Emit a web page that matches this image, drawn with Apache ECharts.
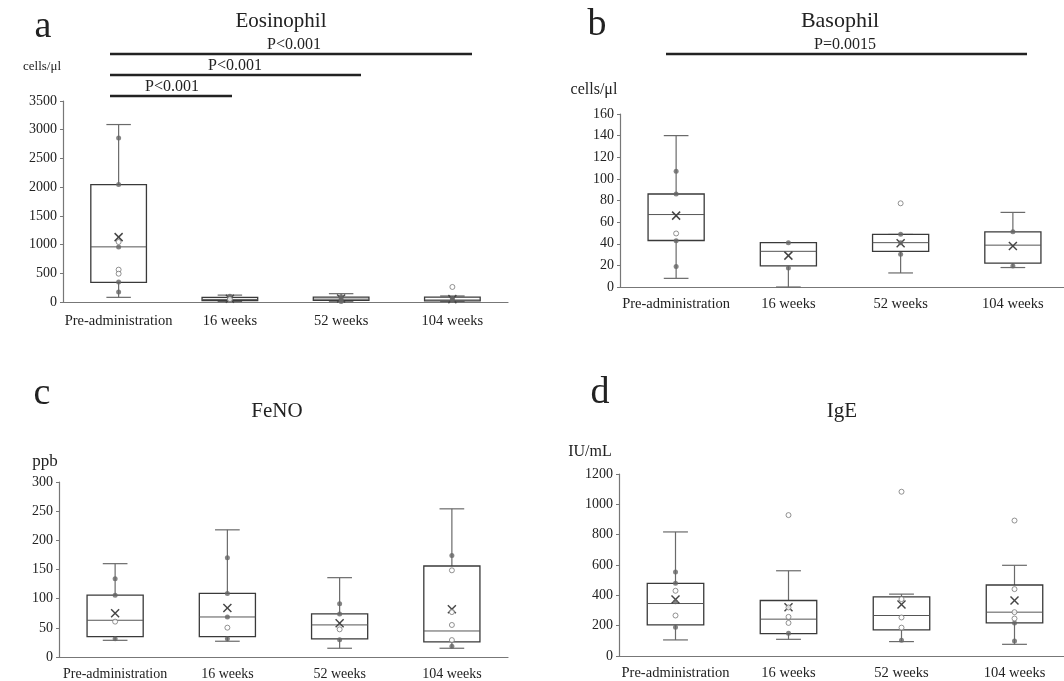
<!DOCTYPE html>
<html>
<head>
<meta charset="utf-8">
<script src="https://cdn.jsdelivr.net/npm/echarts@6/dist/echarts.min.js"></script>
<style>
  html, body { margin: 0; padding: 0; background: #fff; }
  #main { width: 1064px; height: 681px; }
</style>
</head>
<body>
<div id="main"></div>
<script>
var categories = ['Pre-administration', '16 weeks', '52 weeks', '104 weeks'];

// box rows: [min, Q1, median, Q3, max, mean]
var eosBox = [[81, 342, 960, 2045, 3090, 1130], [10, 25, 45, 80, 120, 55], [5, 30, 50, 85, 145, 60], [5, 20, 35, 85, 105, 50]];
var eosFilled = [[2856, 2045, 958, 348, 174], [100, 60, 40], [90, 50, 10], [30, 60]];
var eosHollow = [[1045, 563, 493], [50], [], [262]];

var basBox = [[8, 43, 67, 86, 140, 66], [0, 19.5, 33, 41, 41, 29], [13, 33, 41, 48.6, 48.6, 40.5], [18, 22, 38.7, 51, 69, 38]];
var basFilled = [[107, 86, 42.7, 19], [41, 17.6], [48.9, 41, 30.3], [51, 19.5]];
var basHollow = [[49.5], [], [77.4], []];

var fenoBox = [[28.6, 35, 63, 106, 160, 75], [27, 35, 68.6, 109, 218, 84], [15, 31, 55, 74, 136, 58], [15, 26, 44.6, 156, 254, 82]];
var fenoFilled = [[134, 106, 31.4], [170, 109, 68.6, 31.4], [91.4, 73.7, 29.7], [174, 18.3]];
var fenoHollow = [[60.6], [50.3], [47.4], [148.6, 77, 54.9, 29]];

var igeBox = [[106, 205, 346, 479, 818, 373], [110, 148, 243, 366, 562, 322], [95, 172, 267, 390, 408, 340], [77, 218, 289, 468, 598, 366]];
var igeFilled = [[554, 479, 357, 190], [150], [104], [218, 99]];
var igeHollow = [[430, 267], [929, 320, 258, 218], [1083, 375, 254, 187], [893, 441, 289, 247]];

var yMax = [3500, 160, 300, 1200];
var yStep = [500, 20, 50, 200];

var FONT = 'Liberation Serif';

// draws one box with whiskers, caps, median and mean cross
function renderBox( params, api ) {
    var x = api.value(0);
    var lo = api.coord([x, api.value(1)]),
        q1 = api.coord([x, api.value(2)]),
        md = api.coord([x, api.value(3)]),
        q3 = api.coord([x, api.value(4)]),
        hi = api.coord([x, api.value(5)]),
        mn = api.coord([x, api.value(6)]);
    var band = api.size([1, 0])[0];
    var cx = lo[0], bw = band * 0.25, cw = band * 0.11, m = 4;
    var wStyle = { stroke: '#6a6a6a', lineWidth: 1.2 };
    return {
        type: 'group',
        children: [
            { type: 'line', shape: { x1: cx, y1: q3[1], x2: cx, y2: hi[1] }, style: wStyle },
            { type: 'line', shape: { x1: cx, y1: q1[1], x2: cx, y2: lo[1] }, style: wStyle },
            { type: 'line', shape: { x1: cx - cw, y1: hi[1], x2: cx + cw, y2: hi[1] }, style: wStyle },
            { type: 'line', shape: { x1: cx - cw, y1: lo[1], x2: cx + cw, y2: lo[1] }, style: wStyle },
            { type: 'rect', shape: { x: cx - bw, y: q3[1], width: bw * 2, height: q1[1] - q3[1] },
              style: { fill: '#fff', stroke: '#3a3a3a', lineWidth: 1.3 } },
            { type: 'line', shape: { x1: cx - bw, y1: md[1], x2: cx + bw, y2: md[1] }, style: { stroke: '#555', lineWidth: 1 } },
            { type: 'line', shape: { x1: cx - m, y1: mn[1] - m, x2: cx + m, y2: mn[1] + m }, style: { stroke: '#444', lineWidth: 1.5 }, z2: 10 },
            { type: 'line', shape: { x1: cx - m, y1: mn[1] + m, x2: cx + m, y2: mn[1] - m }, style: { stroke: '#444', lineWidth: 1.5 }, z2: 10 }
        ]
    };
}

function toPairs( lists ) {
    var out = [];
    lists.forEach(function( vals, i ) {
        vals.forEach(function( v ) { out.push([i, v]); });
    });
    return out;
}

var grids = [
    { left: 63, top: 101, width: 445, height: 201 },
    { left: 620, top: 114, width: 449, height: 173 },
    { left: 59, top: 482, width: 449, height: 175 },
    { left: 619, top: 474, width: 452, height: 182 }
];
var xMargin = [12, 10, 10, 10];
var xFont = [14.5, 14.5, 14, 14.5];
var boxes = [eosBox, basBox, fenoBox, igeBox];
var filled = [eosFilled, basFilled, fenoFilled, igeFilled];
var hollow = [eosHollow, basHollow, fenoHollow, igeHollow];

var xAxes = [], yAxes = [], series = [];
grids.forEach(function( g, i ) {
    g.outerBoundsMode = 'none';
    g.containLabel = false;
    xAxes.push({
        type: 'category', gridIndex: i, data: categories,
        axisLine: { lineStyle: { color: '#777', width: 1.2 } },
        axisTick: { length: 3, lineStyle: { color: '#777' } },
        axisLabel: { fontFamily: FONT, fontSize: xFont[i], color: '#222', margin: xMargin[i], interval: 0 }
    });
    yAxes.push({
        type: 'value', gridIndex: i, min: 0, max: yMax[i], interval: yStep[i],
        axisLine: { show: true, lineStyle: { color: '#777', width: 1.2 } },
        axisTick: { show: true, length: 3, lineStyle: { color: '#777' } },
        splitLine: { show: false },
        axisLabel: { fontFamily: FONT, fontSize: 14, color: '#222', margin: 6,
            formatter: function( v ) { return String(v); } }
    });
    series.push({
        type: 'custom', xAxisIndex: i, yAxisIndex: i,
        renderItem: renderBox,
        encode: { x: 0, y: [1, 2, 3, 4, 5] },
        data: boxes[i].map(function( b, k ) { return [k].concat(b); }),
        z: 2
    });
    series.push({
        type: 'scatter', xAxisIndex: i, yAxisIndex: i,
        symbol: 'circle', symbolSize: 5,
        itemStyle: { color: '#666' },
        data: toPairs(filled[i]), z: 3
    });
    series.push({
        type: 'scatter', xAxisIndex: i, yAxisIndex: i,
        symbol: 'circle', symbolSize: 5,
        itemStyle: { color: '#fff', borderColor: '#777', borderWidth: 1 },
        data: toPairs(hollow[i]), z: 3
    });
});

function txt( x, y, s, size, align ) {
    return { type: 'text', x: x, y: y,
        style: { text: s, fontFamily: FONT, fontSize: size, fill: '#222', textAlign: align || 'center', textVerticalAlign: 'middle' } };
}
function bar( x1, x2, y ) {
    return { type: 'line', shape: { x1: x1, y1: y, x2: x2, y2: y }, style: { stroke: '#222', lineWidth: 2.6 } };
}

var graphics = [
    txt(43, 27, 'a', 38), txt(281, 21, 'Eosinophil', 21), txt(42, 67, 'cells/\u03bcl', 13),
    txt(294, 45, 'P<0.001', 16), bar(110, 472, 54),
    txt(235, 66, 'P<0.001', 16), bar(110, 361, 75),
    txt(172, 87, 'P<0.001', 16), bar(110, 232, 96),

    txt(597, 25, 'b', 38), txt(840, 21, 'Basophil', 22), txt(594, 90, 'cells/\u03bcl', 16),
    txt(845, 45, 'P=0.0015', 16), bar(666, 1027, 54),

    txt(42, 394, 'c', 38), txt(277, 411, 'FeNO', 21), txt(45, 462, 'ppb', 17),

    txt(600, 393, 'd', 38), txt(842, 411, 'IgE', 21), txt(590, 452, 'IU/mL', 16)
];

var myChart = echarts.init(document.getElementById('main'));
myChart.setOption({
    animation: false,
    grid: grids,
    xAxis: xAxes,
    yAxis: yAxes,
    series: series,
    graphic: graphics
});
</script>
</body>
</html>
